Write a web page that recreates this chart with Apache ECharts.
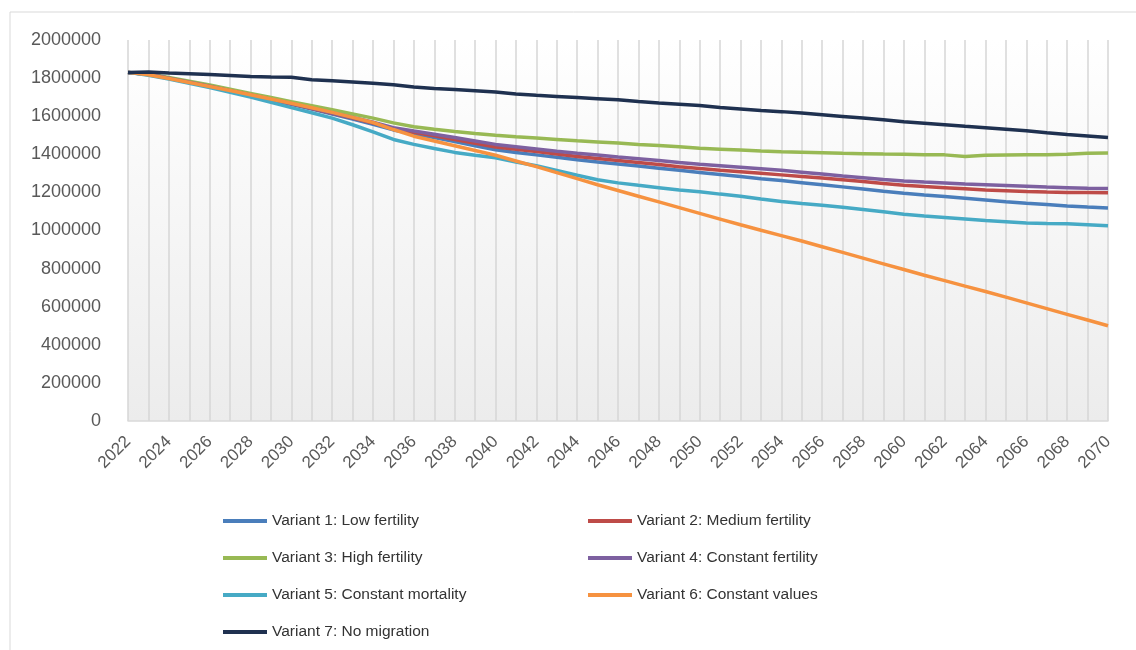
<!DOCTYPE html>
<html>
<head>
<meta charset="utf-8">
<title>Population projection variants</title>
<script src="https://cdn.jsdelivr.net/npm/echarts@6/dist/echarts.min.js"></script>
<style>
  html, body { margin: 0; padding: 0; background: #fff; }
  #chart { width: 1136px; height: 650px; }
</style>
</head>
<body>
<div id="chart"></div>
<script>
// years on the x axis
var years = [];
for (var y = 2022; y <= 2070; y++) years.push(String(y));

var yTicks = [0, 200000, 400000, 600000, 800000, 1000000, 1200000, 1400000, 1600000, 1800000, 2000000];

var seriesNames = [
  'Variant 1: Low fertility',
  'Variant 2: Medium fertility',
  'Variant 3: High fertility',
  'Variant 4: Constant fertility',
  'Variant 5: Constant mortality',
  'Variant 6: Constant values',
  'Variant 7: No migration'
];

// values, 2022..2070
var v1 = [1830000,1819000,1799000,1778000,1756000,1733000,1710000,1686000,1662000,1637000,
  1611000,1585000,1558000,1528000,1508000,1488000,1467000,1445000,1424000,1410000,
  1397000,1384000,1371000,1360000,1349000,1338000,1327000,1316000,1305000,1294000,
  1283000,1272000,1262000,1251000,1240000,1229000,1218000,1206000,1195000,1186000,
  1178000,1169000,1160000,1151000,1143000,1136000,1129000,1123000,1118000];
var v2 = [1830000,1820000,1800000,1779000,1757000,1734000,1711000,1688000,1664000,1640000,
  1615000,1590000,1564000,1535000,1515000,1497000,1478000,1458000,1438000,1426000,
  1414000,1401000,1389000,1378000,1367000,1357000,1346000,1335000,1325000,1316000,
  1308000,1300000,1292000,1284000,1275000,1266000,1257000,1247000,1238000,1231000,
  1225000,1219000,1213000,1209000,1205000,1202000,1200000,1199000,1198000];
var v3 = [1830000,1822000,1803000,1784000,1764000,1742000,1720000,1698000,1676000,1655000,
  1634000,1612000,1590000,1565000,1545000,1532000,1520000,1509000,1500000,1492000,
  1485000,1478000,1471000,1465000,1459000,1452000,1446000,1439000,1432000,1427000,
  1422000,1417000,1413000,1411000,1408000,1405000,1403000,1401000,1400000,1398000,
  1397000,1389000,1395000,1396000,1397000,1398000,1400000,1405000,1407000];
var v4 = [1830000,1820000,1800000,1779000,1757000,1734000,1711000,1688000,1665000,1641000,
  1617000,1593000,1568000,1540000,1522000,1505000,1488000,1470000,1452000,1440000,
  1428000,1416000,1405000,1396000,1386000,1377000,1367000,1357000,1348000,1340000,
  1332000,1324000,1316000,1306000,1296000,1286000,1277000,1268000,1260000,1254000,
  1249000,1244000,1240000,1236000,1232000,1228000,1225000,1222000,1220000];
var v5 = [1830000,1815000,1795000,1773000,1750000,1726000,1700000,1673000,1645000,1618000,
  1590000,1555000,1518000,1478000,1452000,1430000,1410000,1395000,1382000,1360000,
  1340000,1315000,1290000,1266000,1250000,1237000,1225000,1213000,1204000,1191000,
  1180000,1165000,1152000,1142000,1133000,1122000,1110000,1098000,1085000,1076000,
  1068000,1060000,1052000,1046000,1040000,1037000,1035000,1030000,1025000];
var v6 = [1830000,1818000,1798000,1777000,1756000,1735000,1713000,1690000,1668000,1644000,
  1620000,1594000,1567000,1530000,1495000,1470000,1445000,1420000,1395000,1365000,
  1335000,1304000,1272000,1240000,1210000,1180000,1150000,1120000,1090000,1060000,
  1030000,1001000,973000,945000,915000,885000,855000,825000,795000,765000,
  737000,708000,680000,650000,620000,590000,560000,530000,500000];
var v7 = [1830000,1832000,1827000,1823000,1819000,1814000,1809000,1806000,1805000,1791000,
  1786000,1780000,1773000,1765000,1753000,1746000,1740000,1734000,1727000,1717000,
  1710000,1704000,1698000,1692000,1686000,1677000,1669000,1663000,1656000,1646000,
  1638000,1630000,1624000,1617000,1608000,1599000,1590000,1581000,1571000,1563000,
  1555000,1547000,1540000,1532000,1524000,1513000,1504000,1496000,1488000];

var seriesValues = [v1, v2, v3, v4, v5, v6, v7];
var colors = ['#4a7ebb', '#be4b48', '#98b954', '#7d60a0', '#46aac5', '#f69240', '#1f3150'];

var chart = echarts.init(document.getElementById('chart'));

var series = seriesNames.map(function (name, i) {
  return {
    name: name,
    type: 'line',
    data: seriesValues[i],
    showSymbol: false,
    smooth: false,
    z: i === 6 ? 5 : 2,
    lineStyle: { width: 3.5, color: colors[i] },
    itemStyle: { color: colors[i] }
  };
});

var legendCommon = {
  orient: 'vertical',
  icon: 'rect',
  itemWidth: 44,
  itemHeight: 4,
  itemGap: 21,
  textStyle: { color: '#333333', fontSize: 15.5, fontFamily: 'Liberation Sans, Arial, sans-serif' }
};

var option = {
  animation: false,
  color: colors,
  textStyle: { fontFamily: 'Liberation Sans, Arial, sans-serif' },
  graphic: [{
    // faint outer frame of the original figure
    type: 'rect',
    shape: { x: 10, y: 12, width: 1140, height: 660 },
    style: { fill: 'none', stroke: '#d9d9d9', lineWidth: 1 },
    silent: true
  }],
  grid: {
    left: 128,
    right: 28,
    top: 40,
    bottom: 229,
    show: true,
    borderWidth: 0,
    backgroundColor: {
      type: 'linear', x: 0, y: 0, x2: 0, y2: 1,
      colorStops: [{ offset: 0, color: '#ffffff' }, { offset: 1, color: '#ececec' }]
    }
  },
  legend: [
    Object.assign({ left: 218, top: 508, data: [seriesNames[0], seriesNames[2], seriesNames[4], seriesNames[6]] }, legendCommon),
    Object.assign({ left: 583, top: 508, data: [seriesNames[1], seriesNames[3], seriesNames[5]] }, legendCommon)
  ],
  xAxis: {
    type: 'category',
    data: years,
    boundaryGap: false,
    axisLine: { lineStyle: { color: '#d9d9d9', width: 1.5 } },
    axisTick: { show: false },
    axisLabel: {
      interval: 1,
      rotate: 45,
      margin: 18,
      color: '#595959',
      fontSize: 17
    },
    splitLine: {
      show: true,
      interval: 0,
      lineStyle: { color: '#d6d6d6', width: 1.5 }
    }
  },
  yAxis: {
    type: 'value',
    min: yTicks[0],
    max: yTicks[yTicks.length - 1],
    interval: yTicks[1] - yTicks[0],
    axisLine: { show: false },
    axisTick: { show: false },
    splitLine: { show: false },
    axisLabel: {
      color: '#595959',
      fontSize: 18,
      margin: 27,
      formatter: function (v) { return String(v); }
    }
  },
  series: series
};

chart.setOption(option);
</script>
</body>
</html>
